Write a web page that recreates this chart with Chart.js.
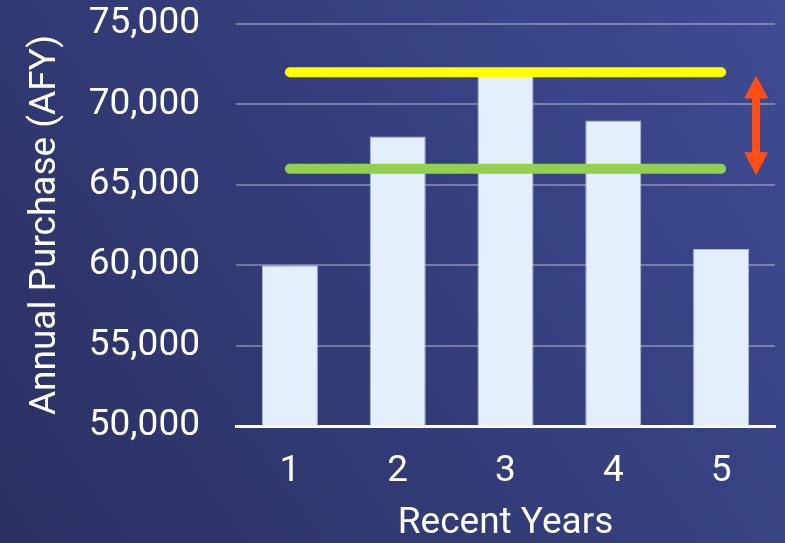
<!DOCTYPE html>
<html>
<head>
<meta charset="utf-8">
<script src="https://cdn.jsdelivr.net/npm/chart.js@4.4.0/dist/chart.umd.min.js"></script>
<style>
  html, body { margin: 0; padding: 0; background: #333a75; }
  #wrap { width: 785px; height: 543px; }
</style>
</head>
<body>
<div id="wrap"><canvas id="purchaseChart" width="785" height="543"></canvas></div>
<script>
// data
const years = ['1', '2', '3', '4', '5'];
const purchases = [60000, 68000, 72000, 69000, 61000];
const highLine = [72000, 72000, 72000, 72000, 72000];
const lowLine = [66000, 66000, 66000, 66000, 66000];
const arrowRange = [71800, 65600];   // top, bottom of the orange arrow
const yTicks = [50000, 55000, 60000, 65000, 70000, 75000];

// gradient backdrop
const bgPlugin = {
    id: 'bgGradient',
    beforeDraw(chart) {
        const c = chart.ctx;
        const g = c.createLinearGradient(0, chart.height, chart.width, 0);
        g.addColorStop(0, '#293061');
        g.addColorStop(1, '#3f4b93');
        c.save();
        c.fillStyle = g;
        c.fillRect(0, 0, chart.width, chart.height);
        c.restore();
    }
};

// double headed arrow to the right of the last bar
const arrowPlugin = {
    id: 'rangeArrow',
    afterDatasetsDraw(chart) {
        const xs = chart.scales.x, ys = chart.scales.y;
        const step = xs.getPixelForValue(1) - xs.getPixelForValue(0);
        const x = xs.getPixelForValue(4) + step * 0.325;
        const yTop = ys.getPixelForValue(arrowRange[0]);
        const yBot = ys.getPixelForValue(arrowRange[1]);
        const headW = 12, headH = 23, shaft = 4;
        const c = chart.ctx;
        c.save();
        c.fillStyle = '#ff4f17';
        c.beginPath();
        c.moveTo(x, yTop);
        c.lineTo(x + headW, yTop + headH);
        c.lineTo(x + shaft, yTop + headH);
        c.lineTo(x + shaft, yBot - headH);
        c.lineTo(x + headW, yBot - headH);
        c.lineTo(x, yBot);
        c.lineTo(x - headW, yBot - headH);
        c.lineTo(x - shaft, yBot - headH);
        c.lineTo(x - shaft, yTop + headH);
        c.lineTo(x - headW, yTop + headH);
        c.closePath();
        c.fill();
        c.restore();
    }
};

const ctx = document.getElementById('purchaseChart').getContext('2d');

new Chart(ctx, {
    type: 'bar',
    data: {
        labels: years,
        datasets: [
            {
                type: 'line',
                label: 'High',
                data: highLine,
                borderColor: '#ffff00',
                borderWidth: 10,
                borderCapStyle: 'round',
                pointRadius: 0,
                fill: false,
                order: 0
            },
            {
                type: 'line',
                label: 'Low',
                data: lowLine,
                borderColor: '#92d050',
                borderWidth: 10,
                borderCapStyle: 'round',
                pointRadius: 0,
                fill: false,
                order: 0
            },
            {
                label: 'Annual Purchase',
                data: purchases,
                backgroundColor: '#e3effb',
                borderColor: '#a9b8dc',
                borderWidth: 1,
                barPercentage: 0.52,
                categoryPercentage: 1,
                order: 1
            }
        ]
    },
    options: {
        responsive: false,
        animation: false,
        layout: { padding: { left: 24, right: 10, top: 24, bottom: 0 } },
        plugins: {
            legend: { display: false },
            tooltip: { enabled: false }
        },
        scales: {
            x: {
                afterFit(scale) {
                    scale.height = 117;
                    scale.paddingLeft = 0;
                    scale.paddingRight = 0;
                },
                grid: { display: false, drawTicks: false },
                border: { display: true, color: '#ffffff', width: 3 },
                ticks: {
                    color: '#ffffff',
                    padding: 24,
                    font: { family: 'Roboto', size: 37 }
                },
                title: {
                    display: true,
                    text: 'Recent Years',
                    color: '#ffffff',
                    padding: { top: 0, bottom: -3 },
                    font: { family: 'Roboto', size: 37 }
                }
            },
            y: {
                min: 50000,
                max: 75000,
                afterBuildTicks(scale) {
                    scale.ticks = yTicks.map(v => ({ value: v }));
                },
                afterFit(scale) {
                    scale.width = 212;
                    scale.paddingTop = 0;
                    scale.paddingBottom = 0;
                },
                grid: { color: 'rgba(255,255,255,0.32)', lineWidth: 2, drawTicks: false },
                border: { display: false },
                ticks: {
                    color: '#ffffff',
                    padding: 36,
                    font: { family: 'Roboto', size: 37 },
                    callback: v => v.toLocaleString('en-US')
                },
                title: {
                    display: true,
                    text: 'Annual Purchase (AFY)',
                    color: '#ffffff',
                    padding: { top: 0, bottom: 0 },
                    font: { family: 'Roboto', size: 37 }
                }
            }
        }
    },
    plugins: [bgPlugin, arrowPlugin]
});
</script>
</body>
</html>
